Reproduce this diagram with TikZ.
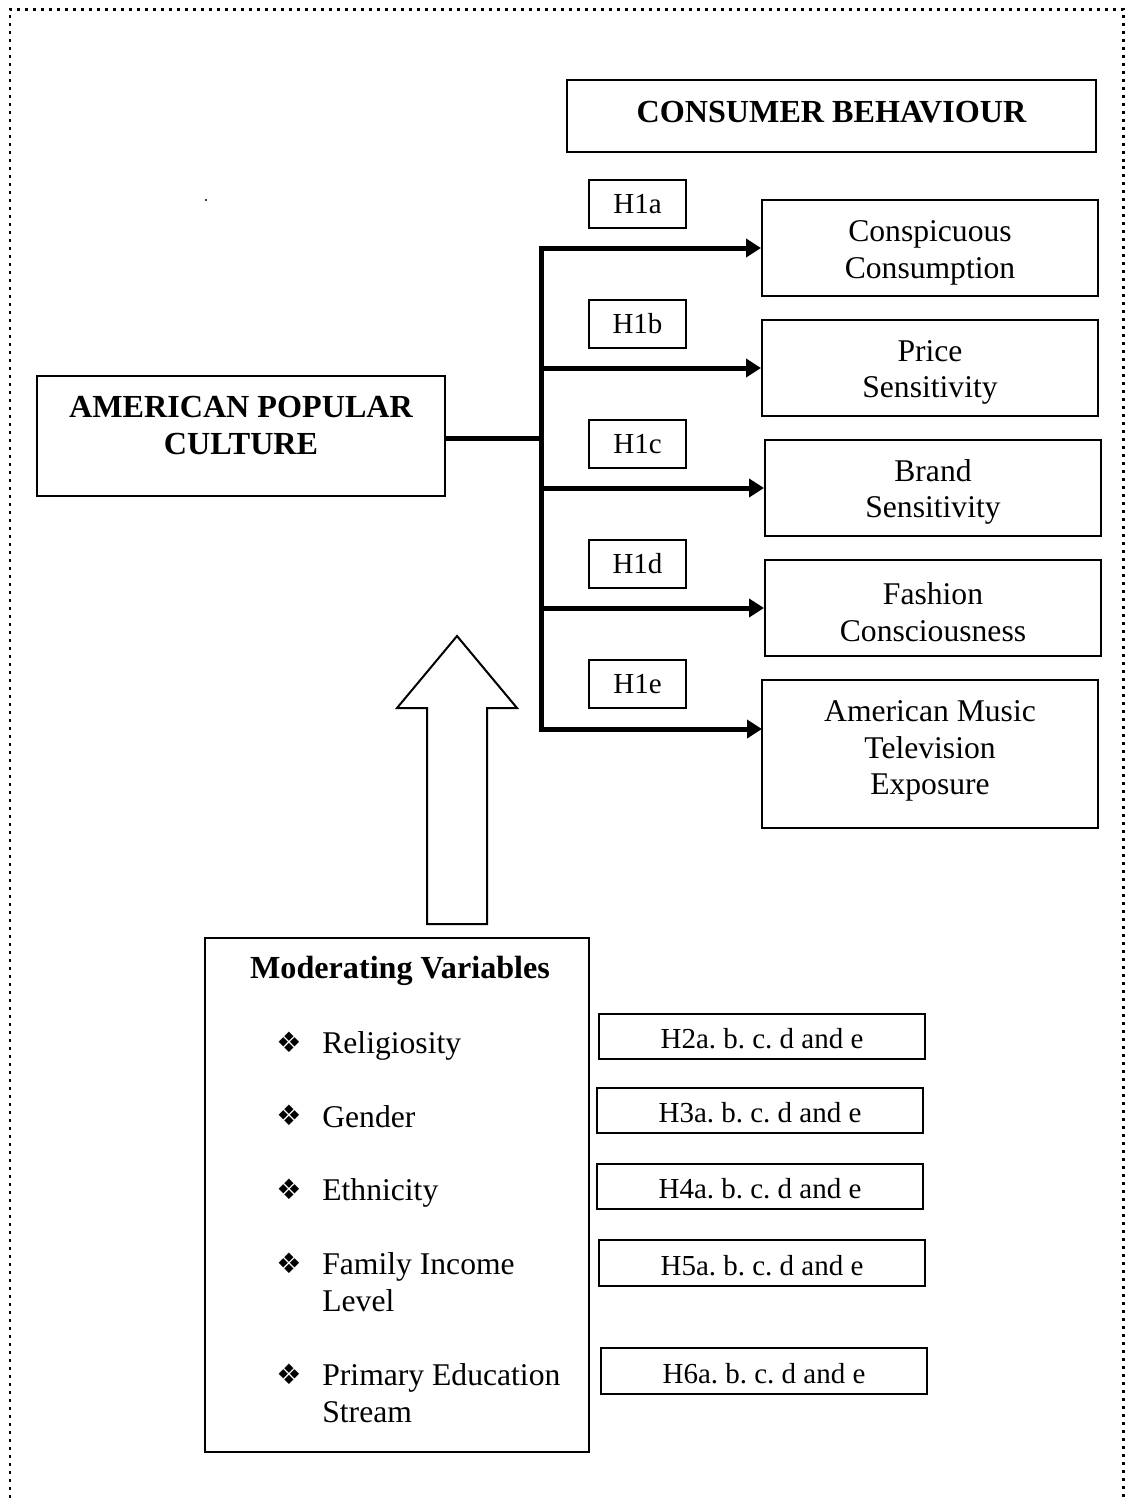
\documentclass[tikz,border=0pt]{standalone}
\usepackage{fontspec}
\setmainfont{Liberation Serif}
\newfontfamily\symfont{DejaVu Sans}
\frenchspacing
\newcommand{\boxgap}{\rule{0pt}{17pt}}
\usetikzlibrary{arrows.meta, positioning}
\tikzset{%
	box/.style={draw, rectangle, line width=0.04cm, inner sep=0mm, align=center,%
		font=\fontsize{18}{21}\selectfont},
	titletxt/.style={inner sep=0mm, align=center, font=\bfseries\fontsize{18.3}{21}\selectfont},
	hyplab/.style={draw, rectangle, line width=0.04cm, minimum width=1.94cm,%
		minimum height=0.96cm, inner sep=0mm, font=\fontsize{16.5}{19}\selectfont},
	modlab/.style={draw, rectangle, line width=0.04cm, minimum width=6.52cm,%
		minimum height=0.9cm, inner sep=0mm, font=\fontsize{16.5}{19}\selectfont,%
		execute at begin node=\rule{0pt}{14.7pt}},
	itemtxt/.style={anchor=west, align=left, inner sep=0mm, font=\fontsize{18}{21}\selectfont},
	bulletmark/.style={inner sep=0mm, font=\symfont\fontsize{16}{16}\selectfont},
	connector/.style={line width=0.1cm},
	sel/.style={line width=0.1cm, -{Triangle[length=3mm, width=3.6mm]}},
	border/.style={line width=0.06cm, dash pattern=on 0.06cm off 0.1cm},
	blockarrow/.style={draw, line width=0.04cm}
}
\begin{document}
\begin{tikzpicture}[x=0.02cm, y=-0.02cm]
	\useasboundingbox (0,0) rectangle (1125,1498);
	\draw[border] (10,1530) -- (10,9) -- (1123,9) -- (1123,1530);
	\fill (206,200) circle (1.2);

	\node[box, minimum width=10.58cm, minimum height=1.44cm] (cb) at (831.5,116) {};
	\node[titletxt] (cbtext) at (831.5,112.5) {CONSUMER BEHAVIOUR};

	\node[box, minimum width=8.16cm, minimum height=2.4cm] (apc) at (241,436) {};
	\node[titletxt] (apctext) at (241,425.5) {AMERICAN POPULAR\\CULTURE};

	\node[box, minimum width=6.72cm, minimum height=1.92cm] (c1) at (930,248) {\boxgap Conspicuous\\Consumption};
	\node[box, minimum width=6.72cm, minimum height=1.92cm] (c2) at (930,368) {\boxgap Price\\Sensitivity};
	\node[box, minimum width=6.72cm, minimum height=1.92cm] (c3) at (933,488) {\boxgap Brand\\Sensitivity};
	\node[box, minimum width=6.72cm, minimum height=1.92cm] (c4) at (933,608) {\boxgap Fashion\\Consciousness};
	\node[box, minimum width=6.72cm, minimum height=2.96cm] (c5) at (930,754) {};
	\node[box, draw=none] (c5text) at (930,746.5) {\boxgap American Music\\Television\\Exposure};

	\node[hyplab] (h1a) at (637.5,204) {H1a};
	\node[hyplab] (h1b) at (637.5,324) {H1b};
	\node[hyplab] (h1c) at (637.5,444) {H1c};
	\node[hyplab] (h1d) at (637.5,564) {H1d};
	\node[hyplab] (h1e) at (637.5,684) {H1e};

	\coordinate (top) at (541,245.5);
	\coordinate (bot) at (541,731.5);
	\coordinate (c5in) at (762,729);
	\draw[connector] (top) -- (bot);
	\draw[connector] (apc.east |- 0,438) -- (top |- 0,438);
	\draw[sel] (c1.west -| top) -- (c1.west);
	\draw[sel] (c2.west -| top) -- (c2.west);
	\draw[sel] (c3.west -| top) -- (c3.west);
	\draw[sel] (c4.west -| top) -- (c4.west);
	\draw[sel] (c5in -| top) -- (c5in);

	\draw[blockarrow] (427,924) -- (427,708) -- (397,708) -- (457,636) -- (517,708)
		-- (487,708) -- (487,924) -- cycle;

	\node[box, minimum width=7.68cm, minimum height=10.28cm] (modbox) at (397,1195) {};
	\node[titletxt] (modtitle) at (400,971) {Moderating Variables};

	\node[bulletmark] (brel) at (289,1042) {❖};
	\node[itemtxt] (rel) at (322,1046) {Religiosity};
	\node[bulletmark] (bgen) at (289,1115) {❖};
	\node[itemtxt] (gen) at (322,1117) {Gender};
	\node[bulletmark] (beth) at (289,1189) {❖};
	\node[itemtxt] (eth) at (322,1193) {Ethnicity};
	\node[bulletmark] (binc) at (289,1263) {❖};
	\node[itemtxt] (inc) at (322,1282.5) {Family Income\\Level};
	\node[bulletmark] (bedu) at (289,1374) {❖};
	\node[itemtxt] (edu) at (322,1393) {Primary Education\\Stream};

	\node[modlab] (h2) at (762,1036) {H2a. b. c. d and e};
	\node[modlab] (h3) at (760,1110) {H3a. b. c. d and e};
	\node[modlab] (h4) at (760,1186) {H4a. b. c. d and e};
	\node[modlab, minimum height=0.92cm] (h5) at (762,1263) {H5a. b. c. d and e};
	\node[modlab, minimum height=0.92cm] (h6) at (764,1371) {H6a. b. c. d and e};
\end{tikzpicture}
\end{document}
